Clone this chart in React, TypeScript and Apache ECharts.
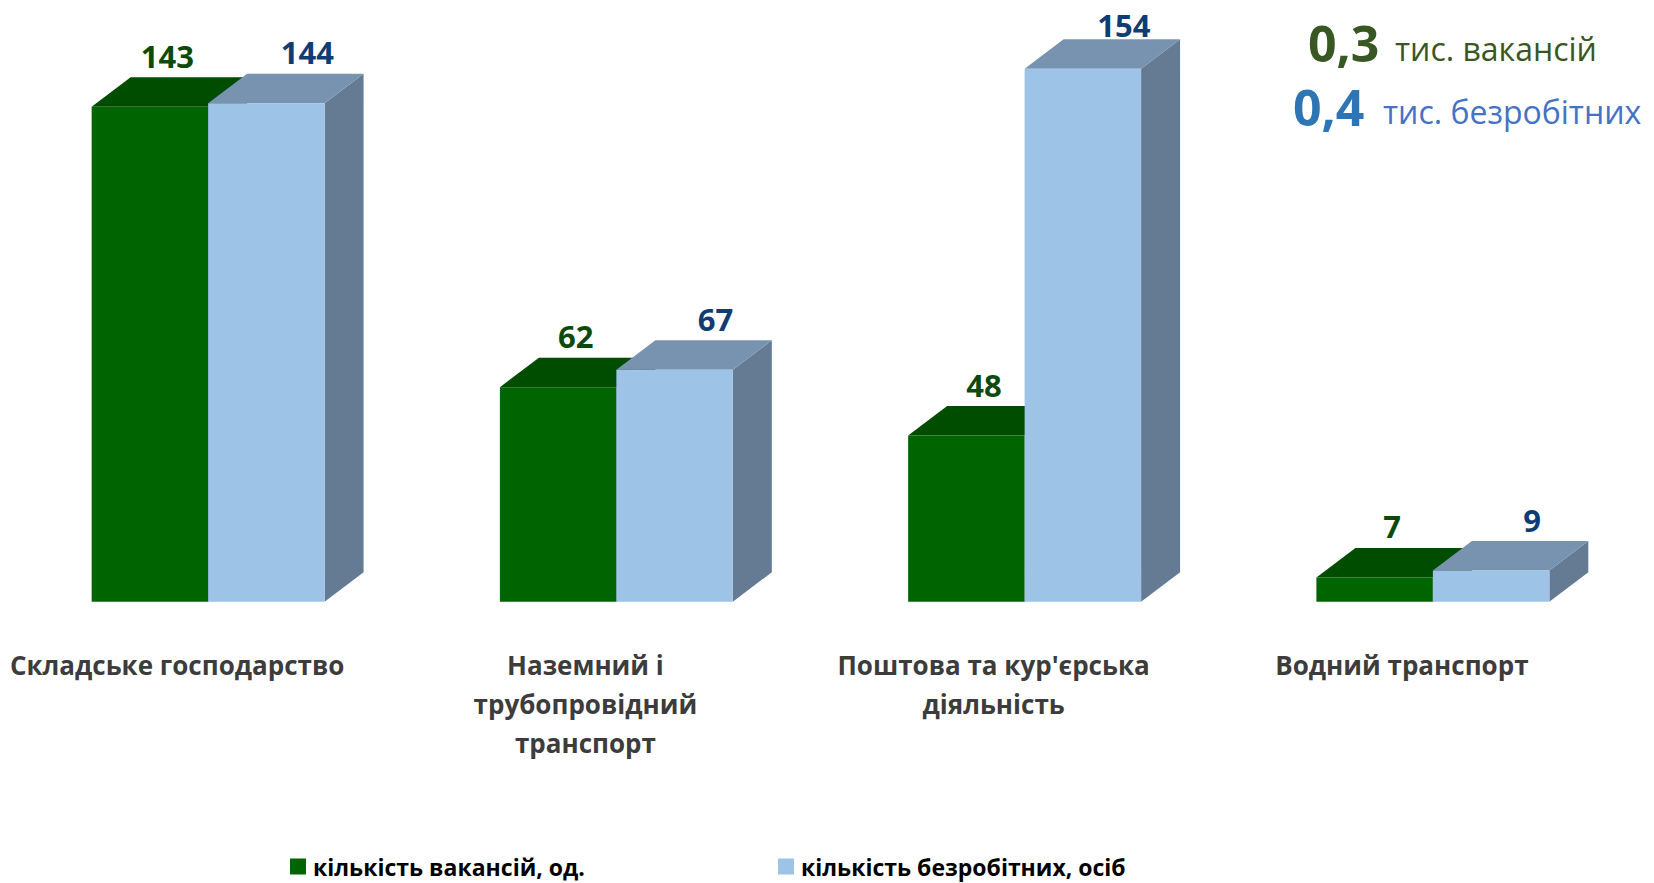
import React, { useEffect, useRef } from 'react';
import * as echarts from 'echarts';

const categories = [
  'Складське господарство',
  'Наземний і\nтрубопровідний\nтранспорт',
  "Поштова та кур'єрська\nдіяльність",
  'Водний транспорт',
];
const vacancies = [143, 62, 48, 7];
const unemployed = [144, 67, 154, 9];
const seriesNames = ['кількість вакансій, од.', 'кількість безробітних, осіб'];
const summaryNumbers = ['0,3', '0,4'];
const summaryUnits = ['тис. вакансій', 'тис. безробітних'];

const palettes = [
  { front: '#006400', top: '#004d00', side: '#004400', label: '#0b4a0b', offset: 0.45 },
  { front: '#9dc3e6', top: '#7893b0', side: '#657b93', label: '#0f3d73', offset: 1.05 },
];

const FONT = '"Open Sans", "Noto Sans", sans-serif';

function makeRender(idx: number) {
  const p = palettes[idx];
  return (params: any, api: any) => {
    const cat = api.value(0);
    const val = api.value(1);
    const base = api.coord([cat, 0]);
    const top = api.coord([cat, val]);
    const band = api.size([1, 0])[0];
    const w = band * 0.2853;
    const dx = band * 0.0955;
    const dy = dx * 0.757;
    const cx = base[0];
    const x0 = idx === 0 ? cx - w : cx;
    const x1 = x0 + w;
    const yb = base[1];
    const yt = top[1];
    const labelY = Math.max(yt - dy - 6 - 15.5, 25);
    return {
      type: 'group',
      silent: true,
      children: [
        {
          type: 'polygon',
          shape: { points: [[x1, yt], [x1 + dx, yt - dy], [x1 + dx, yb - dy], [x1, yb]] },
          style: { fill: p.side },
        },
        {
          type: 'polygon',
          shape: { points: [[x0, yt], [x1, yt], [x1 + dx, yt - dy], [x0 + dx, yt - dy]] },
          style: { fill: p.top },
        },
        {
          type: 'rect',
          shape: { x: x0, y: yt, width: w, height: yb - yt },
          style: { fill: p.front },
        },
        {
          type: 'text',
          style: {
            text: String(val),
            x: x0 + w / 2 + dx * p.offset,
            y: labelY,
            align: 'center',
            verticalAlign: 'middle',
            lineHeight: 31,
            font: 'bold 31px ' + FONT,
            fill: p.label,
          },
        },
      ],
    };
  };
}

export default function App() {
  const ref = useRef<HTMLDivElement>(null);
  useEffect(() => {
    if (!ref.current) return;
    const chart = echarts.init(ref.current, undefined, { renderer: 'svg' });
    const legendText = {
      fontFamily: FONT,
      fontWeight: 'bold' as const,
      fontSize: 23,
      color: '#000000',
      padding: [0, 0, 0, 2],
    };
    chart.setOption({
      animation: false,
      backgroundColor: '#ffffff',
      grid: { left: 4, right: 17, top: 48, bottom: 281.3, containLabel: false },
      xAxis: {
        type: 'category',
        data: categories,
        axisLine: { show: false },
        axisTick: { show: false },
        splitLine: { show: false },
        axisLabel: {
          interval: 0,
          margin: 44,
          fontFamily: FONT,
          fontWeight: 'bold',
          fontSize: 26,
          lineHeight: 39,
          color: '#3c3c3c',
          verticalAlign: 'top',
          padding: [0, 62, 0, 0],
        },
      },
      yAxis: {
        type: 'value',
        min: 0,
        max: 160,
        show: false,
      },
      legend: [
        {
          data: [seriesNames[0]],
          left: 290,
          top: 855,
          padding: 0,
          icon: 'rect',
          itemWidth: 16,
          itemHeight: 16,
          selectedMode: false,
          textStyle: legendText,
        },
        {
          data: [seriesNames[1]],
          left: 778,
          top: 855,
          padding: 0,
          icon: 'rect',
          itemWidth: 16,
          itemHeight: 16,
          selectedMode: false,
          textStyle: legendText,
        },
      ],
      graphic: [
        {
          type: 'text',
          left: 1308,
          top: 18,
          style: { text: summaryNumbers[0], font: 'bold 50px ' + FONT, fill: '#385723' },
        },
        {
          type: 'text',
          left: 1395,
          top: 32,
          style: { text: summaryUnits[0], font: '32px ' + FONT, fill: '#385723' },
        },
        {
          type: 'text',
          left: 1293,
          top: 82,
          style: { text: summaryNumbers[1], font: 'bold 50px ' + FONT, fill: '#2e75b6' },
        },
        {
          type: 'text',
          left: 1383,
          top: 95,
          style: { text: summaryUnits[1], font: '32px ' + FONT, fill: '#4472c4' },
        },
      ],
      series: [
        {
          type: 'custom',
          name: seriesNames[0],
          itemStyle: { color: palettes[0].front },
          renderItem: makeRender(0),
          encode: { x: 0, y: 1 },
          data: vacancies.map((v, i) => [i, v]),
          z: 2,
        },
        {
          type: 'custom',
          name: seriesNames[1],
          itemStyle: { color: palettes[1].front },
          renderItem: makeRender(1),
          encode: { x: 0, y: 1 },
          data: unemployed.map((v, i) => [i, v]),
          z: 3,
        },
      ],
    });
    return () => chart.dispose();
  }, []);
  return (
    <div
      ref={ref}
      style={{ position: 'fixed', left: 0, top: 0, width: 1654, height: 883, background: '#fff' }}
    />
  );
}
